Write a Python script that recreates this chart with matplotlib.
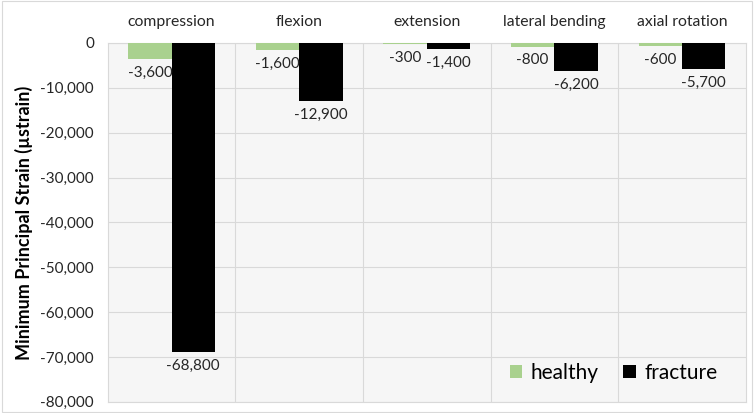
import matplotlib
matplotlib.use("Agg")
import matplotlib.pyplot as plt
from matplotlib.ticker import FuncFormatter
import numpy as np

plt.rcParams['font.family'] = ['Lato', 'DejaVu Sans']
plt.rcParams['hatch.linewidth'] = 0.3
plt.rcParams['hatch.color'] = '#dedede'

# loading cases and minimum principal strain (microstrain)
cases = ["compression", "flexion", "extension", "lateral bending", "axial rotation"]
healthy = [-3600, -1600, -300, -800, -600]
fracture = [-68800, -12900, -1400, -6200, -5700]
yticks = [0, -10000, -20000, -30000, -40000, -50000, -60000, -70000, -80000]

green = "#a9d18e"
text_col = "#262626"

fig = plt.figure(figsize=(7.54, 4.13), dpi=100)
ax = fig.add_axes([0.143, 0.027, 0.846, 0.869])
ax.set_facecolor("#f6f6f6")
# fine textured fill behind the plot area
ax.add_patch(plt.Rectangle((0, 0), 1, 1, transform=ax.transAxes, facecolor="none",
                           hatch="//////", edgecolor="none", zorder=0))

x = np.arange(len(cases))
w = 0.34
b1 = ax.bar(x - w / 2, healthy, w, color=green, label="healthy", zorder=3)
b2 = ax.bar(x + w / 2, fracture, w, color="black", label="fracture", zorder=3)

# value labels just below the end of each bar
for bars, vals in [(b1, healthy), (b2, fracture)]:
    for rect, v in zip(bars, vals):
        ax.annotate(f"{v:,}", (rect.get_x() + rect.get_width() / 2, v),
                    xytext=(0, -5), textcoords="offset points",
                    ha="center", va="top", fontsize=11, color=text_col, zorder=4)

ax.set_xlim(-0.5, len(cases) - 0.5)
ax.set_ylim(-80000, 0)
ax.set_yticks(yticks)
ax.yaxis.set_major_formatter(FuncFormatter(lambda v, p: f"{int(v):,}"))
ax.tick_params(axis="y", length=0, labelsize=11, labelcolor=text_col, pad=10)

# case names across the top
ax.xaxis.tick_top()
ax.set_xticks(x)
ax.set_xticklabels(cases)
ax.tick_params(axis="x", length=0, labelsize=11.3, labelcolor=text_col, pad=10)

# gridlines: horizontal at ticks, vertical between cases
for y in yticks:
    ax.axhline(y, color="#d9d9d9", lw=0.8, zorder=1)
for xv in np.arange(0.5, len(cases) - 0.5):
    ax.axvline(xv, color="#d9d9d9", lw=0.8, zorder=1)

for s in ax.spines.values():
    s.set_color("#d9d9d9")
    s.set_linewidth(0.8)

ax.set_ylabel("Minimum Principal Strain (µstrain)", fontsize=13,
              fontweight="bold", color="black", labelpad=5)

ax.legend(loc="lower right", ncol=2, frameon=False, fontsize=15,
          handlelength=0.6, handleheight=0.6, handletextpad=0.4,
          columnspacing=1.2, bbox_to_anchor=(0.985, 0.0))

# thin frame around the whole chart
fig.patches.append(plt.Rectangle((0.002, 0.003), 0.996, 0.994, transform=fig.transFigure,
                                 fill=False, edgecolor="#d9d9d9", lw=0.8))

fig.savefig("out.png", dpi=100, facecolor="white")
